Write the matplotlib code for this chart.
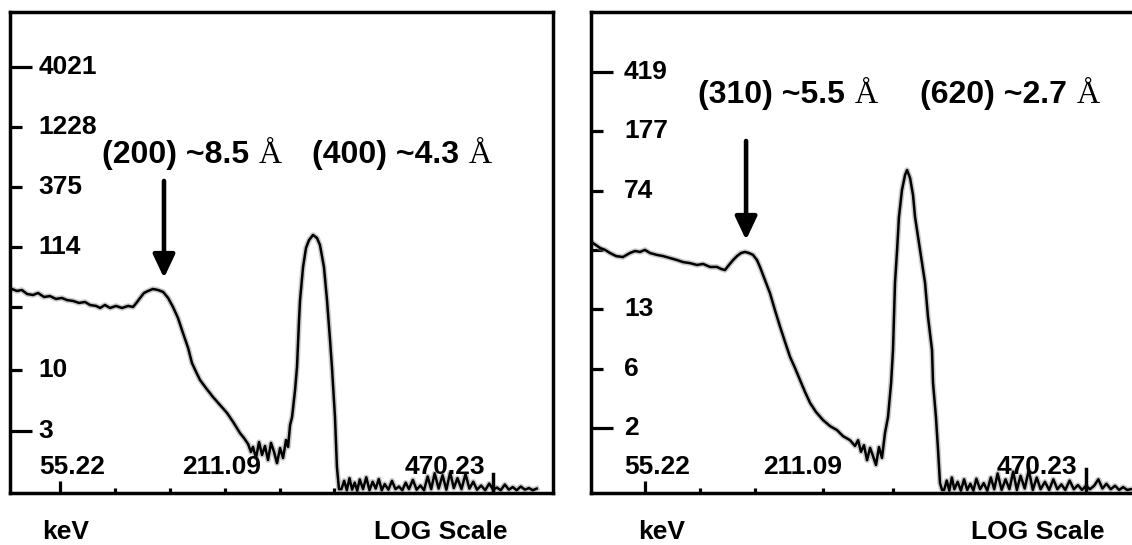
"""Two EDXRD spectra (log counts vs keV) side by side, MCA-screen style."""
import matplotlib
matplotlib.use("Agg")
import matplotlib.pyplot as plt
import matplotlib.ticker as mticker
import matplotlib.transforms as mtransforms

plt.rcParams["font.family"] = ["Liberation Sans", "DejaVu Sans"]
plt.rcParams["font.weight"] = "bold"

# ---------------- left spectrum: (200) / (400) ----------------
LEFT_KEV = [
    43.5, 44.6, 45.7, 46.9, 48.3, 49.5, 51.0, 52.5, 54.1, 55.7, 57.1, 58.9, 60.6, 62.5,
    64.0, 66.0, 67.3, 68.9, 70.7, 72.8, 75.0, 77.3, 79.2, 80.8, 82.0, 83.6, 85.3, 87.4,
    89.6, 91.9, 94.2, 96.5, 98.9, 101.4, 104.0, 106.0, 108.2, 110.3, 113.6, 117.6, 121.8,
    126.1, 129.9, 134.4, 137.1, 139.9, 141.9, 143.3, 145.5, 147.7, 149.9, 152.1, 154.4,
    156.7, 159.1, 161.4, 163.9, 166.3, 168.8, 170.5, 172.2, 173.9, 176.5, 178.2, 180.0,
    180.9, 183.6, 186.3, 189.1, 192.9, 196.7, 199.6, 203.6, 206.7, 209.8, 211.8, 215.0,
    217.1, 219.3,
    222, 225, 228, 231, 234, 237, 240, 243, 247, 251, 255, 259, 263, 267, 271, 275, 280,
    285, 290, 295, 300, 305, 310, 316, 322, 328, 334, 340, 346, 352, 359, 366, 373, 380,
    387, 394, 402, 410, 418, 426, 434, 443, 452, 461, 470, 479, 488, 498, 508, 518, 528,
    539, 550, 561, 572, 583,
]
LEFT_COUNTS = [
    49.8, 47.9, 48.8, 45.1, 44.2, 46.0, 42.5, 43.3, 40.9, 41.7, 40.0, 39.3, 37.8, 38.5,
    36.3, 35.6, 34.2, 36.3, 34.2, 35.6, 34.2, 35.6, 34.9, 38.5, 41.7, 46.0, 47.9, 49.8,
    48.8, 47.0, 41.7, 34.9, 28.1, 20.8, 15.5, 11.5, 9.64, 8.23, 7.02, 5.88, 5.02,
    4.28, 3.59, 2.88, 2.61, 2.32, 1.98, 2.19, 1.76, 2.41, 1.87, 2.23, 1.69,
    2.37, 1.98, 1.59, 2.14, 1.76, 2.51, 2.19, 3.38, 3.96, 6.75, 10.65, 27.0,
    40.0, 76.9, 112, 131, 145, 136.5, 119, 76.9, 40.0, 18.2, 10.65, 3.96,
    1.47, 0.95,
    0.95, 1.12, 0.93, 1.18, 0.94, 1.08, 0.92, 1.15, 0.95, 1.20, 0.93, 1.10, 0.96, 1.16,
    0.93, 1.05, 0.94, 1.12, 0.95, 1.00, 0.93, 1.08, 0.95, 1.14, 0.94, 1.02, 0.93, 1.22,
    0.95, 1.30, 0.96, 1.25, 0.94, 1.32, 0.97, 1.18, 0.95, 1.28, 0.96, 1.10, 0.94, 1.02,
    0.93, 1.06, 0.94, 0.98, 0.93, 1.04, 0.94, 0.99, 0.93, 1.00, 0.94, 0.97, 0.93, 0.96,
]

# ---------------- right spectrum: (310) / (620) ----------------
RIGHT_KEV = [
    42.9, 44.4, 45.5, 46.6, 48.0, 49.6, 51.3, 52.6, 53.9, 55.2, 56.6, 58.5, 60.3, 62.3,
    64.5, 66.4, 68.7, 71.1, 73.2, 75.7, 78.3, 79.9, 81.4, 83.0, 84.7, 86.3, 88.0, 89.7,
    91.5, 93.3, 95.1, 96.5, 98.9, 101.3, 103.8, 106.4, 109.0, 111.7, 114.4, 117.2, 120.1,
    123.1, 126.7, 131.1, 135.6, 140.3, 144.4, 149.4, 153.1, 155.4, 157.6, 159.9, 162.3,
    164.7, 167.1, 169.5, 172.0, 174.5, 177.1, 179.7, 182.4, 184.1, 185.0, 185.9, 187.8,
    189.5, 192.3, 195.2, 197.1, 200.0, 202.9, 204.9, 209.9, 215.1, 218.2, 222.5, 223.6,
    226.8, 229.1, 231.3, 233.6,
    236, 239, 242, 245, 248, 252, 256, 260, 264, 268, 272, 276, 281, 286, 291, 296, 301,
    306, 312, 318, 324, 330, 336, 342, 349, 356, 363, 370, 377, 385, 393, 401, 409, 417,
    425, 434, 443, 452, 461, 470, 479, 489, 499, 509, 519, 530, 541, 552, 563, 574, 584,
]
RIGHT_COUNTS = [
    34.8, 32.4, 31.5, 30.1, 28.8, 28.4, 30.1, 31.0, 30.6, 31.5, 30.1, 29.3, 28.8, 28.0,
    27.2, 26.4, 26.0, 25.3, 25.7, 24.6, 24.6, 23.9, 23.5, 25.3, 27.2, 28.8, 30.1, 30.6,
    30.1, 29.3, 27.2, 24.6, 20.3, 16.8, 13.1, 10.3, 8.25, 6.63, 5.65, 4.75, 3.99,
    3.40, 2.98, 2.65, 2.43, 2.29, 2.10, 1.98, 1.82, 1.98, 1.67, 1.84, 1.48,
    1.77, 1.57, 1.38, 1.79, 1.53, 2.20, 2.77, 4.54, 7.35, 11.9, 19.5, 31.5,
    50.8, 75.3, 93.7, 100.7, 89.7, 70.0, 50.8, 31.5, 19.5, 11.9, 7.35, 4.54,
    2.77, 1.72, 1.06, 0.96,
    0.96, 1.10, 0.95, 1.15, 0.97, 1.08, 0.95, 1.12, 0.96, 1.05, 0.95, 1.13, 0.97, 1.06,
    0.95, 1.15, 0.97, 1.22, 0.96, 1.12, 0.97, 1.25, 0.96, 1.18, 0.98, 1.28, 0.96, 1.15,
    0.97, 1.08, 0.96, 1.12, 0.97, 1.04, 0.96, 1.10, 0.97, 1.03, 0.96, 1.02, 0.97, 1.02,
    1.12, 0.98, 1.05, 0.97, 1.02, 0.96, 1.00, 0.96, 0.97,
]

# y-axis ticks (counts) and their printed labels
LEFT_YTICKS = [3, 10, 34.6, 114, 375, 1228, 4021]
LEFT_YLABELS = ["3", "10", "", "114", "375", "1228", "4021"]
RIGHT_YTICKS = [2.37, 5.61, 13.3, 31.5, 74.6, 176.8, 419]
RIGHT_YLABELS = ["2", "6", "13", "", "74", "177", "419"]

# x-axis (keV) tick marks and the three printed energies
LEFT_XMINOR = [72.5, 95.1, 124.8, 163.9, 214.0]
RIGHT_XMINOR = [72.1, 94.2, 131.1, 184.1]
X_LABELS = ["55.22", "211.09", "470.23"]

LEFT_PEAKS = ["(200) ~8.5", "(400) ~4.3"]
RIGHT_PEAKS = ["(310) ~5.5", "(620) ~2.7"]

W, H = 1132, 545


def draw_panel(ax, kev, counts, xlim, ylim, yticks, ylabels, xminor,
               xlabel_pos, ylabel_x, peaks, peak_pos, arrow, tall_tick, side_pos):
    ax.plot(kev, counts, color="#8a8a8a", lw=4.0, alpha=0.45, solid_joinstyle="round")
    ax.plot(kev, counts, color="black", lw=1.8, solid_joinstyle="round")
    ax.set_xscale("log")
    ax.set_yscale("log")
    ax.set_xlim(*xlim)
    ax.set_ylim(*ylim)

    # y ticks: long marks at both ends, short ones in between
    ax.yaxis.set_major_locator(mticker.FixedLocator([yticks[0], yticks[-1]]))
    ax.yaxis.set_minor_locator(mticker.FixedLocator(yticks[1:-1]))
    ax.xaxis.set_major_locator(mticker.FixedLocator([55.22]))
    ax.xaxis.set_minor_locator(mticker.FixedLocator(xminor))
    for axis in (ax.xaxis, ax.yaxis):
        axis.set_major_formatter(mticker.NullFormatter())
        axis.set_minor_formatter(mticker.NullFormatter())
    ax.tick_params(axis="y", which="major", direction="in", length=16, width=2.3)
    ax.tick_params(axis="y", which="minor", direction="in", length=8.5, width=2.3)
    ax.tick_params(axis="x", which="major", direction="in", length=9, width=2.3)
    ax.tick_params(axis="x", which="minor", direction="in", length=3.8, width=2.3)
    ax.axvline(470.23, ymin=0, ymax=tall_tick, color="black", lw=2.5)

    for sp in ax.spines.values():
        sp.set_linewidth(2.5)

    ytrans = mtransforms.blended_transform_factory(ax.transAxes, ax.transData)
    for v, lab in zip(yticks, ylabels):
        if lab:
            ax.text(ylabel_x, v, lab, transform=ytrans, ha="left", va="center",
                    fontsize=19, fontweight="bold")

    for lab, xf in zip(X_LABELS, xlabel_pos):
        ax.text(xf, 0.054, lab, transform=ax.transAxes, ha="center", va="center",
                fontsize=19, fontweight="bold")

    ax.text(side_pos[0], -0.081, "keV", transform=ax.transAxes, ha="center",
            va="center", fontsize=19, fontweight="bold", clip_on=False)
    ax.text(side_pos[1], -0.081, "LOG Scale", transform=ax.transAxes, ha="center",
            va="center", fontsize=19, fontweight="bold", clip_on=False)

    for txt, (xf, yf) in zip(peaks, peak_pos):
        t = ax.text(xf, yf, txt, transform=ax.transAxes, ha="left", va="center",
                    fontsize=23, fontweight="bold")
        ax.annotate("Å", xy=(1, 0), xycoords=t, xytext=(7, 0),
                    textcoords="offset points", ha="left", va="bottom",
                    fontsize=23, fontweight="normal",
                    family=["Liberation Serif", "DejaVu Serif"])

    x_arrow, y_tip, y_tail = arrow
    ax.annotate("", xy=(x_arrow, y_tip), xytext=(x_arrow, y_tail),
                arrowprops=dict(arrowstyle="-|>,head_length=0.7,head_width=0.33",
                                lw=3.3, color="black", mutation_scale=20,
                                shrinkA=0, shrinkB=0))


fig = plt.figure(figsize=(W / 100, H / 100), dpi=100)
ax_l = fig.add_axes([10 / W, 52 / H, 543 / W, 481 / H])
ax_r = fig.add_axes([591 / W, 52 / H, 541 / W, 481 / H])

draw_panel(ax_l, LEFT_KEV, LEFT_COUNTS, (43.1, 632), (0.88, 11935),
           LEFT_YTICKS, LEFT_YLABELS, LEFT_XMINOR, (0.114, 0.390, 0.801), 0.053,
           LEFT_PEAKS, [(0.169, 0.703), (0.556, 0.703)], (92.3, 61.9, 422),
           0.04, (0.103, 0.794))
draw_panel(ax_r, RIGHT_KEV, RIGHT_COUNTS, (42.48, 587.6), (0.918, 1003),
           RIGHT_YTICKS, RIGHT_YLABELS, RIGHT_XMINOR, (0.122, 0.392, 0.824), 0.061,
           RIGHT_PEAKS, [(0.198, 0.827), (0.608, 0.827)], (90.2, 36.4, 153.6),
           0.05, (0.131, 0.826))
ax_r.spines["right"].set_visible(False)

fig.savefig("out.png", dpi=100)
